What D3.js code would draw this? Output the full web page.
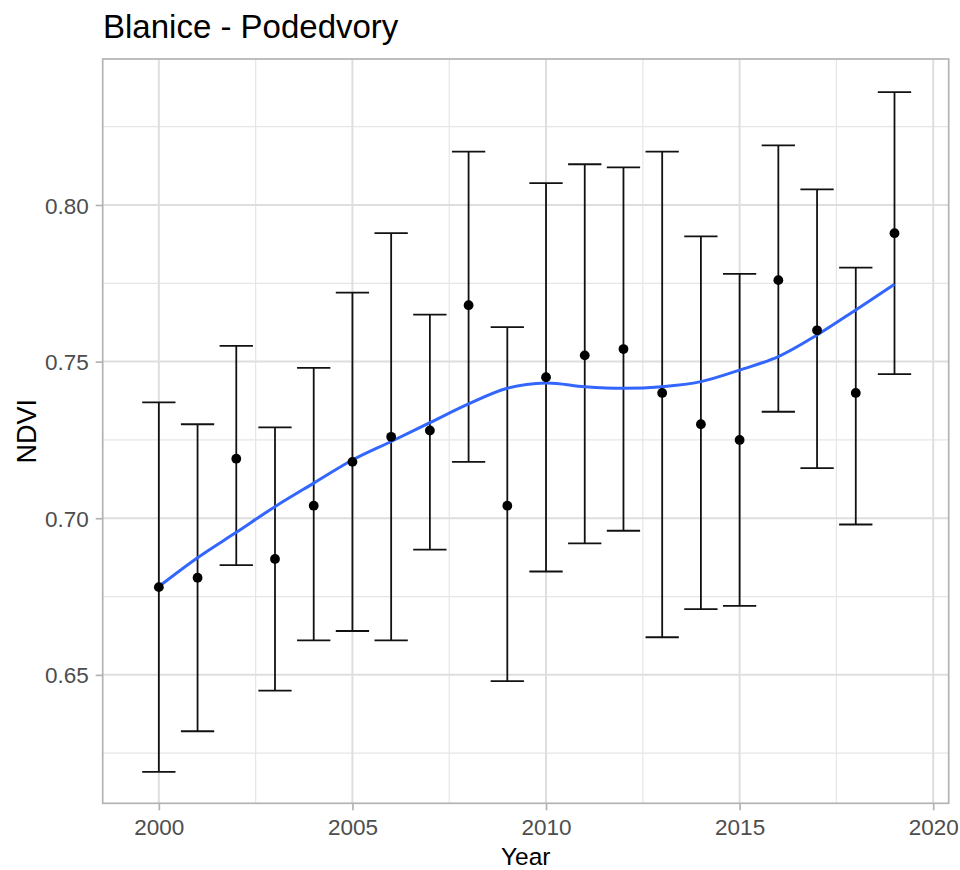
<!DOCTYPE html>
<html>
<head>
<meta charset="utf-8">
<script src="https://cdn.jsdelivr.net/npm/d3@7"></script>
<style>
  body { margin: 0; background: #fff; }
  text { font-family: "Liberation Sans", Arial, sans-serif; }
</style>
</head>
<body>
<div id="chart"></div>
<script>
// data
const years = [2000,2001,2002,2003,2004,2005,2006,2007,2008,2009,2010,2011,2012,2013,2014,2015,2016,2017,2018,2019]
const ndvi  = [0.678,0.681,0.719,0.687,0.704,0.718,0.726,0.728,0.768,0.704,0.745,0.752,0.754,0.740,0.730,0.725,0.776,0.760,0.740,0.791]
const upper = [0.737,0.730,0.755,0.729,0.748,0.772,0.791,0.765,0.817,0.761,0.807,0.813,0.812,0.817,0.790,0.778,0.819,0.805,0.780,0.836]
const lower = [0.619,0.632,0.685,0.645,0.661,0.664,0.661,0.690,0.718,0.648,0.683,0.692,0.696,0.662,0.671,0.672,0.734,0.716,0.698,0.746]
const smooth = [0.6782,0.6874,0.6955,0.7037,0.7112,0.7186,0.7245,0.7305,0.7365,0.7415,0.7432,0.7420,0.7415,0.7420,0.7436,0.7473,0.7516,0.7585,0.7665,0.7747]

const xTicks = [2000,2005,2010,2015,2020]
const xMinor = [2002.5,2007.5,2012.5,2017.5]
const yTicks = [0.65,0.70,0.75,0.80]
const yMinor = [0.625,0.675,0.725,0.775,0.825]

const data = years.map((yr,i)=>({year:yr, ndvi:ndvi[i], lo:lower[i], hi:upper[i], fit:smooth[i]}))

const W = 960, H = 870
const panel = {left:102.7, right:948.7, top:59, bottom:803.3}

const svg = d3.select("#chart")
    .append("svg")
    .attr("width",W)
    .attr("height",H)

// scales
const x = d3.scaleLinear()
    .domain([1998.55,2020.4])
    .range([panel.left,panel.right])

const y = d3.scaleLinear()
    .domain([0.609,0.8466])
    .range([panel.bottom,panel.top])

// grid
const grid = svg.append("g")

grid.selectAll(".ymin")
    .data(yMinor)
    .join("line")
    .attr("x1",panel.left).attr("x2",panel.right)
    .attr("y1",d=>y(d)).attr("y2",d=>y(d))
    .attr("stroke","#e6e6e6").attr("stroke-width",1.2)

grid.selectAll(".xmin")
    .data(xMinor)
    .join("line")
    .attr("y1",panel.top).attr("y2",panel.bottom)
    .attr("x1",d=>x(d)).attr("x2",d=>x(d))
    .attr("stroke","#e6e6e6").attr("stroke-width",1.2)

grid.append("g").selectAll("line")
    .data(yTicks)
    .join("line")
    .attr("x1",panel.left).attr("x2",panel.right)
    .attr("y1",d=>y(d)).attr("y2",d=>y(d))
    .attr("stroke","#dedede").attr("stroke-width",2)

grid.append("g").selectAll("line")
    .data(xTicks)
    .join("line")
    .attr("y1",panel.top).attr("y2",panel.bottom)
    .attr("x1",d=>x(d)).attr("x2",d=>x(d))
    .attr("stroke","#dedede").attr("stroke-width",2)

// error bars
const capHalf = 0.43
const bars = svg.append("g")
    .attr("stroke","#111")
    .attr("stroke-width",1.8)

bars.selectAll(".v")
    .data(data)
    .join("line")
    .attr("x1",d=>x(d.year)).attr("x2",d=>x(d.year))
    .attr("y1",d=>y(d.lo)).attr("y2",d=>y(d.hi))

bars.selectAll(".top")
    .data(data)
    .join("line")
    .attr("x1",d=>x(d.year-capHalf)).attr("x2",d=>x(d.year+capHalf))
    .attr("y1",d=>y(d.hi)).attr("y2",d=>y(d.hi))

bars.append("g").selectAll("line")
    .data(data)
    .join("line")
    .attr("x1",d=>x(d.year-capHalf)).attr("x2",d=>x(d.year+capHalf))
    .attr("y1",d=>y(d.lo)).attr("y2",d=>y(d.lo))

// smooth line
const line = d3.line()
    .x(d=>x(d.year))
    .y(d=>y(d.fit))
    .curve(d3.curveCatmullRom)

svg.append("path")
    .datum(data)
    .attr("d",line)
    .attr("fill","none")
    .attr("stroke","#3366FF")
    .attr("stroke-width",3)

// points
svg.append("g").selectAll("circle")
    .data(data)
    .join("circle")
    .attr("cx",d=>x(d.year))
    .attr("cy",d=>y(d.ndvi))
    .attr("r",4.9)
    .attr("fill","#000")

// panel border
svg.append("rect")
    .attr("x",panel.left).attr("y",panel.top)
    .attr("width",panel.right-panel.left)
    .attr("height",panel.bottom-panel.top)
    .attr("fill","none")
    .attr("stroke","#b3b3b3")
    .attr("stroke-width",1.7)

// axes
const xAxis = svg.append("g")
    .attr("transform",`translate(0,${panel.bottom})`)
    .call(d3.axisBottom(x).tickValues(xTicks).tickFormat(d3.format("d")).tickSize(7).tickPadding(8))

const yAxis = svg.append("g")
    .attr("transform",`translate(${panel.left},0)`)
    .call(d3.axisLeft(y).tickValues(yTicks).tickFormat(d3.format(".2f")).tickSize(7).tickPadding(7))

;[xAxis,yAxis].forEach(a=>{
    a.select(".domain").remove()
    a.selectAll(".tick line").attr("stroke","#b3b3b3").attr("stroke-width",1.7)
    a.selectAll(".tick text")
        .attr("fill","#4d4d4d")
        .style("font-size","22.5px")
        .style("font-family","'Liberation Sans', Arial, sans-serif")
})
xAxis.selectAll(".tick text").attr("dy",null).attr("y",32)
yAxis.selectAll(".tick text").attr("dy","0.36em")

// titles
svg.append("text")
    .attr("x",103)
    .attr("y",38)
    .text("Blanice - Podedvory")
    .style("font-size","33px")
    .attr("fill","#000")

svg.append("text")
    .attr("x",(panel.left+panel.right)/2)
    .attr("y",864.5)
    .attr("text-anchor","middle")
    .text("Year")
    .style("font-size","24.5px")
    .attr("fill","#000")

svg.append("text")
    .attr("transform",`translate(36,${(panel.top+panel.bottom)/2}) rotate(-90)`)
    .attr("text-anchor","middle")
    .text("NDVI")
    .style("font-size","27px")
    .attr("fill","#000")
</script>
</body>
</html>
